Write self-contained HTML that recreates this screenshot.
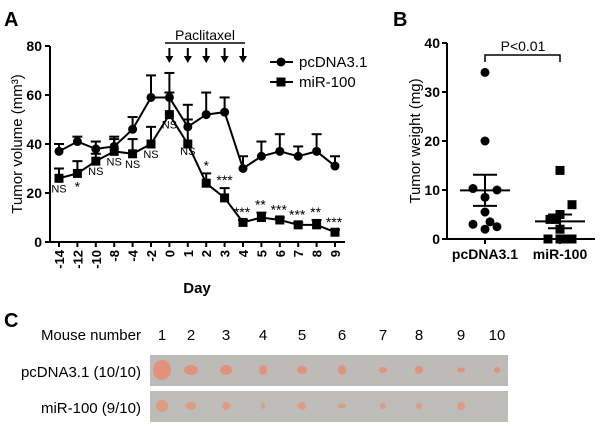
<!DOCTYPE html>
<html><head><meta charset="utf-8"><style>
body{margin:0;background:#fff;width:600px;height:437px;overflow:hidden;font-family:"Liberation Sans",Arial,sans-serif}
</style></head><body>
<svg id="fig" width="600" height="437" xmlns="http://www.w3.org/2000/svg" font-family="Liberation Sans, Arial, sans-serif">
<text x="4" y="26" font-size="20" font-weight="bold">A</text>
<text x="393" y="26" font-size="20" font-weight="bold">B</text>
<text x="4" y="327" font-size="20" font-weight="bold">C</text>
<g id="a"></g>
<g id="b"></g>
<g id="c"></g>
</svg>
<script>
const days=["-14","-12","-10","-8","-4","-2","0","1","2","3","4","5","6","7","8","9"];
const pcMean=[37,41,38,39,46,59,59,47,52,53,30,35,37,35,37,31];
const pcUp=[40,43,41,43,51,68,69,56,61,59,35,41,44,39,44,35];
const miMean=[26,28,33,37,36,40,52,40,24,18,8,10,9,7,7,4];
const miUp=[30,33,36,42,42,47,61,50,28,22,9,12,10,8,9,5];
const sig=["NS","*","NS","NS","NS","NS","NS","NS","*","***","***","**","***","***","**","***"];
const yTicks=[0,20,40,60,80];
const wPc=[34,20,10.3,10,8.5,5.5,3,2,3.5,2.5];
const wMi=[14,7,5,4,4,2,0,0,0,0];
const wTicks=[0,10,20,30,40];
const mice=["1","2","3","4","5","6","7","8","9","10"];
const NS="http://www.w3.org/2000/svg";
function el(p,t,a,txt){const e=document.createElementNS(NS,t);for(const k in a)e.setAttribute(k,a[k]);if(txt!==undefined)e.textContent=txt;p.appendChild(e);return e;}
// Panel A
const A=document.getElementById('a');
const ax=i=>59+i*18.4, ay=v=>242-v*2.45;
el(A,'line',{x1:50,y1:46,x2:50,y2:242,stroke:'#000','stroke-width':2});
el(A,'line',{x1:50,y1:242,x2:345,y2:242,stroke:'#000','stroke-width':2});
yTicks.forEach(v=>{el(A,'line',{x1:45,y1:ay(v),x2:50,y2:ay(v),stroke:'#000','stroke-width':2});
 const t=el(A,'text',{x:42,y:ay(v)+5,'font-size':14,'font-weight':'bold','text-anchor':'end'},v);});
days.forEach((d,i)=>{el(A,'line',{x1:ax(i),y1:242,x2:ax(i),y2:247,stroke:'#000','stroke-width':2});
 const t=el(A,'text',{x:0,y:0,'font-size':13,'font-weight':'bold','text-anchor':'end',transform:`translate(${ax(i)+5},250) rotate(-90)`},d);});
el(A,'text',{x:197,y:293,'font-size':15,'font-weight':'bold','text-anchor':'middle'},'Day');
el(A,'text',{x:0,y:0,'font-size':15,'text-anchor':'middle',transform:'translate(22,144) rotate(-90)'},'Tumor volume (mm³)');
function series(mean,up,shape,name){
 const g=el(A,'g',{});
 mean.forEach((m,i)=>{el(g,'line',{x1:ax(i),y1:ay(m),x2:ax(i),y2:ay(up[i]),stroke:'#000','stroke-width':2});
  el(g,'line',{x1:ax(i)-5,y1:ay(up[i]),x2:ax(i)+5,y2:ay(up[i]),stroke:'#000','stroke-width':2});});
 el(g,'polyline',{points:mean.map((m,i)=>ax(i)+','+ay(m)).join(' '),fill:'none',stroke:'#000','stroke-width':2});
 mean.forEach((m,i)=>{if(shape==='c')el(g,'circle',{cx:ax(i),cy:ay(m),r:4.5});else el(g,'rect',{x:ax(i)-4.5,y:ay(m)-4.5,width:9,height:9});});
}
series(pcMean,pcUp,'c','series-pcdna');
series(miMean,miUp,'s','series-mir100');
sig.forEach((s,i)=>{
 let y,x=ax(i),fs=11;
 if(s==='NS'){y=ay(miMean[i])+(i===7?11:14);}
 else if(i===1){y=ay(miMean[i])+18;fs=14;}
 else {y=ay(miUp[i])-3;fs=14;if(i>=10)x-=1;}
 const t=el(A,'text',{x:x,y:y,'font-size':fs,'text-anchor':'middle'},s);
 });
el(A,'line',{x1:165,y1:43,x2:245,y2:43,stroke:'#000','stroke-width':1.5});
el(A,'text',{x:205,y:40,'font-size':14,'text-anchor':'middle'},'Paclitaxel');
[0,1,2,3,4].forEach(k=>{const x=ax(6+k);el(A,'line',{x1:x,y1:48,x2:x,y2:60,stroke:'#000','stroke-width':2});el(A,'path',{d:`M${x-4},56 L${x+4},56 L${x},63 Z`});});
const lg=el(A,'g',{});
el(lg,'line',{x1:270,y1:62,x2:293,y2:62,stroke:'#000','stroke-width':2});el(lg,'circle',{cx:281,cy:62,r:4.5});
el(lg,'text',{x:299,y:67,'font-size':15},'pcDNA3.1');
el(lg,'line',{x1:270,y1:82,x2:293,y2:82,stroke:'#000','stroke-width':2});el(lg,'rect',{x:276.5,y:77.5,width:9,height:9});
el(lg,'text',{x:299,y:87,'font-size':15},'miR-100');
// Panel B
const B=document.getElementById('b');
const by=v=>239-v*4.9;
el(B,'line',{x1:447,y1:43,x2:447,y2:239,stroke:'#000','stroke-width':2});
el(B,'line',{x1:447,y1:239,x2:595,y2:239,stroke:'#000','stroke-width':2});
wTicks.forEach(v=>{el(B,'line',{x1:442,y1:by(v),x2:447,y2:by(v),stroke:'#000','stroke-width':2});
 const t=el(B,'text',{x:440,y:by(v)+5,'font-size':14,'font-weight':'bold','text-anchor':'end'},v);});
[485,560].forEach(x=>el(B,'line',{x1:x,y1:239,x2:x,y2:244,stroke:'#000','stroke-width':2}));
el(B,'text',{x:485,y:259,'font-size':14,'font-weight':'bold','text-anchor':'middle'},'pcDNA3.1');
el(B,'text',{x:560,y:259,'font-size':14,'font-weight':'bold','text-anchor':'middle'},'miR-100');
el(B,'text',{x:0,y:0,'font-size':15,'text-anchor':'middle',transform:'translate(420,141) rotate(-90)'},'Tumor weight (mg)');
el(B,'path',{d:'M485,62 V55 H560 V62',fill:'none',stroke:'#000','stroke-width':1.5});
el(B,'text',{x:523,y:51,'font-size':14,'text-anchor':'middle'},'P<0.01');
function mean(a){return a.reduce((s,v)=>s+v,0)/a.length;}
function sem(a){const m=mean(a);return Math.sqrt(a.reduce((s,v)=>s+(v-m)**2,0)/(a.length-1))/Math.sqrt(a.length);}
const offs=[0,0,-12,12,0,0,-12,0,5,12];
const offs2=[0,12,0,-10,-4,0,-12,0,6,12];
function dots(vals,cx,shape,name,off){const g=el(B,'g',{});
 vals.forEach((v,i)=>{const x=cx+off[i];if(shape==='c')el(g,'circle',{cx:x,cy:by(v),r:4.5});else el(g,'rect',{x:x-4.5,y:by(v)-4.5,width:9,height:9});});
 const m=mean(vals),s=sem(vals);
 el(g,'line',{x1:cx-25,y1:by(m),x2:cx+25,y2:by(m),stroke:'#000','stroke-width':2});
 el(g,'line',{x1:cx,y1:by(m-s),x2:cx,y2:by(m+s),stroke:'#000','stroke-width':2});
 [m-s,m+s].forEach(v=>el(g,'line',{x1:cx-12,y1:by(v),x2:cx+12,y2:by(v),stroke:'#000','stroke-width':2}));}
dots(wPc,485,'c','pcdna-weights',offs);
dots(wMi,560,'s','mir100-weights',offs2);
// Panel C
const C=document.getElementById('c');
const mx=[162,191,226,263,302,342,383,419,461,497];
el(C,'text',{x:141,y:340,'font-size':15,'text-anchor':'end'},'Mouse number');
mice.forEach((m,i)=>{const t=el(C,'text',{x:mx[i],y:340,'font-size':15,'text-anchor':'middle'},m);});
el(C,'text',{x:141,y:377,'font-size':15,'text-anchor':'end'},'pcDNA3.1 (10/10)');
el(C,'text',{x:141,y:413,'font-size':15,'text-anchor':'end'},'miR-100 (9/10)');
const r1=el(C,'rect',{x:150,y:355,width:358,height:31,fill:'#bdbbb7'});
const r2=el(C,'rect',{x:150,y:391,width:358,height:31,fill:'#bebcb8'});
const s1=[[9,10],[7,5],[6,5],[4,5],[5,4],[4,5],[4,3],[4,4],[4,2.5],[3,3]];
const s2=[[6,6],[5,4],[4,4],[2,3],[4,4],[4,2.5],[3,3],[3,3],[4,4],[0,0]];
mx.forEach((x,i)=>{el(C,'ellipse',{cx:x,cy:370,rx:s1[i][0],ry:s1[i][1],fill:'#e0937a'});
 if(s2[i][0])el(C,'ellipse',{cx:x,cy:406,rx:s2[i][0],ry:s2[i][1],fill:'#dc9c80'});});
</script>
</body></html>
